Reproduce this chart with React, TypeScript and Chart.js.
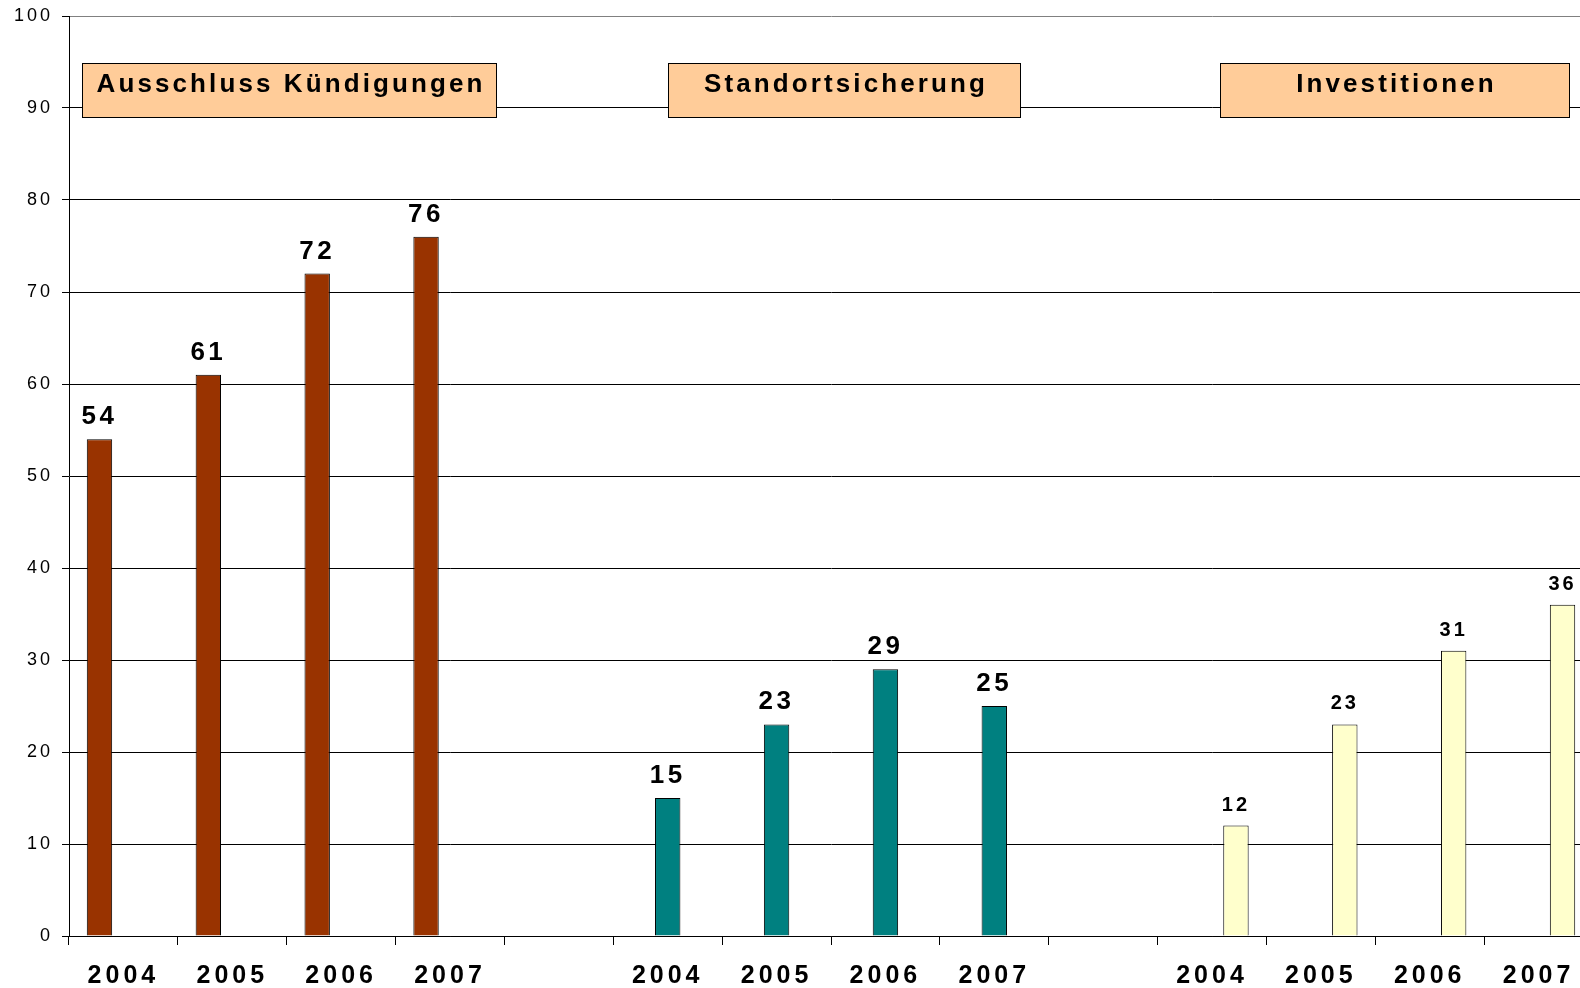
import React, { useEffect, useRef } from 'react';
import { Chart, registerables } from 'chart.js';

Chart.register(...registerables);

// ---- data ----
const years = ['2004', '2005', '2006', '2007'];
const kuendigungValues = [54, 61, 72, 76];
const standortValues = [15, 23, 29, 25];
const investValues = [12, 23, 31, 36];
const groupTitles = ['Ausschluss Kündigungen', 'Standortsicherung', 'Investitionen'];

const categories = [...years, '', ...years, '', ...years];
const groupStarts = [0, 5, 10];

const pad = (vals: number[], start: number) =>
  categories.map((_, i) => (i >= start && i < start + vals.length ? vals[i - start] : null));

// ---- layout of title boxes (category-index units / value units) ----
const titleBoxes = [
  { from: -0.385, to: 3.42 },
  { from: 5.0, to: 8.24 },
  { from: 10.07, to: 13.275 },
];
const boxTopValue = 94.84;
const boxBottomValue = 89.07;

const FONT = '"Liberation Sans", Arial, sans-serif';

const textPlugin = {
  id: 'customText',
  beforeDraw(chart: any) {
    chart.ctx.letterSpacing = '3px';
  },
  afterDatasetsDraw(chart: any) {
    const ctx = chart.ctx;
    ctx.save();
    ctx.fillStyle = '#000';
    ctx.textAlign = 'center';
    ctx.textBaseline = 'alphabetic';
    chart.data.datasets.forEach((ds: any, di: number) => {
      const meta = chart.getDatasetMeta(di);
      const small = di === 2;
      const sp = small ? 3 : 3.5;
      ctx.font = `bold ${small ? 20 : 26}px ${FONT}`;
      ctx.letterSpacing = `${sp}px`;
      meta.data.forEach((el: any, i: number) => {
        const v = ds.data[i];
        if (v === null || v === undefined) return;
        ctx.fillText(String(v), el.x, el.y - 15);
      });
    });
    ctx.restore();
  },
  afterDraw(chart: any) {
    const ctx = chart.ctx;
    const x = chart.scales.x;
    const y = chart.scales.y;
    ctx.save();
    // x labels
    ctx.fillStyle = '#000';
    ctx.font = `bold 25px ${FONT}`;
    ctx.letterSpacing = '4px';
    ctx.textAlign = 'center';
    ctx.textBaseline = 'alphabetic';
    categories.forEach((lab, i) => {
      if (!lab) return;
      ctx.fillText(lab, x.getPixelForTick(i), 983);
    });
    // title boxes
    const top = Math.round(y.getPixelForValue(boxTopValue)) + 0.5;
    const bottom = Math.round(y.getPixelForValue(boxBottomValue)) + 0.5;
    titleBoxes.forEach((b, gi) => {
      const l = Math.round(x.getPixelForValue(b.from)) + 0.5;
      const r = Math.round(x.getPixelForValue(b.to)) + 0.5;
      ctx.fillStyle = '#FFCC99';
      ctx.fillRect(l, top, r - l, bottom - top);
      ctx.strokeStyle = '#000';
      ctx.lineWidth = 1;
      ctx.strokeRect(l, top, r - l, bottom - top);
      ctx.fillStyle = '#000';
      ctx.font = `bold 26px ${FONT}`;
      ctx.letterSpacing = '3.1px';
      ctx.textAlign = 'center';
      ctx.fillText(groupTitles[gi], (l + r) / 2 + 1.5, top + 28);
    });
    ctx.restore();
  },
};

export default function App() {
  const ref = useRef<HTMLCanvasElement>(null);
  useEffect(() => {
    if (!ref.current) return;
    const chart = new Chart(ref.current, {
      type: 'bar',
      data: {
        labels: categories,
        datasets: [
          {
            label: 'Ausschluss Kündigungen',
            data: pad(kuendigungValues, groupStarts[0]),
            backgroundColor: '#993300',
            borderColor: '#000',
            borderWidth: 1,
          },
          {
            label: 'Standortsicherung',
            data: pad(standortValues, groupStarts[1]),
            backgroundColor: '#008080',
            borderColor: '#000',
            borderWidth: 1,
          },
          {
            label: 'Investitionen',
            data: pad(investValues, groupStarts[2]),
            backgroundColor: '#FFFFCC',
            borderColor: '#000',
            borderWidth: 1,
          },
        ],
      },
      options: {
        animation: false,
        responsive: false,
        devicePixelRatio: 1,
        layout: { padding: { top: 16, right: 0, bottom: 0, left: 0 } },
        datasets: { bar: { categoryPercentage: 0.66, barPercentage: 1.06 } },
        plugins: { legend: { display: false }, tooltip: { enabled: false } },
        scales: {
          x: {
            offset: true,
            grid: {
              offset: true,
              drawOnChartArea: false,
              drawTicks: true,
              tickLength: 9,
              color: '#000',
              lineWidth: 1,
            },
            border: { display: true, color: '#000', width: 1 },
            ticks: { display: false },
            afterFit: (s: any) => {
              s.height = 52;
              s.paddingLeft = 0;
              s.paddingRight = 0;
            },
          },
          y: {
            min: 0,
            max: 100,
            ticks: {
              stepSize: 10,
              color: '#000',
              padding: 9,
              font: { family: FONT, size: 18 },
            },
            grid: {
              color: (c: any) => (c.tick && c.tick.value === 100 ? '#808080' : '#000'),
              tickColor: '#000',
              tickLength: 7,
              lineWidth: 1,
            },
            border: { display: true, color: '#000', width: 1 },
            afterFit: (s: any) => {
              s.width = 69;
              s.paddingTop = 0;
              s.paddingBottom = 0;
            },
          },
        },
      },
      plugins: [textPlugin],
    });
    return () => chart.destroy();
  }, []);
  return (
    <div
      style={{
        position: 'fixed',
        left: 0,
        top: 0,
        width: 1580,
        height: 988,
        overflow: 'hidden',
        background: '#fff',
      }}
    >
      <canvas ref={ref} width={1593} height={988} style={{ display: 'block', width: 1593, height: 988 }} />
    </div>
  );
}
